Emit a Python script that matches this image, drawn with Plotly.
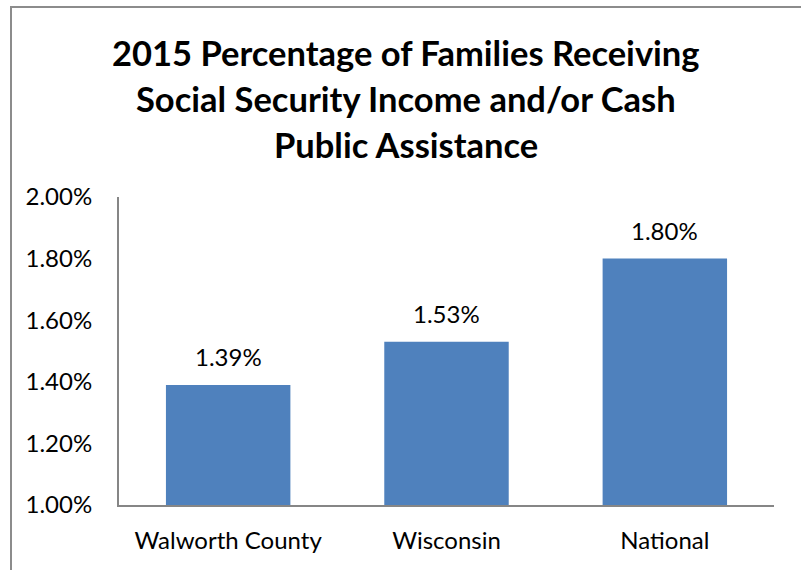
import plotly.graph_objects as go

# Share of families receiving SSI and/or cash public assistance, 2015
categories = ["Walworth County", "Wisconsin", "National"]
values = [1.39, 1.53, 1.80]  # percent
y_tickvals = [1.0, 1.2, 1.4, 1.6, 1.8, 2.0]
y_ticktext = ["1.00%", "1.20%", "1.40%", "1.60%", "1.80%", "2.00%"]
title_lines = [
    "2015 Percentage of Families Receiving",
    "Social Security Income and/or Cash",
    "Public Assistance",
]

W, H = 801, 570
L, R, T, B = 119, 27, 197, 65
pw, ph = W - L - R, H - T - B

font_family = "Lato, 'Open Sans', sans-serif"
AXIS_FLOOR = 1.0

fig = go.Figure(
    go.Bar(
        x=categories,
        y=[v - AXIS_FLOOR for v in values],
        base=AXIS_FLOOR,
        marker=dict(color="#4F81BD", line=dict(width=0)),
        hoverinfo="skip",
    )
)

# value labels above each bar
for c, v in zip(categories, values):
    fig.add_annotation(
        x=c, y=v, xref="x", yref="y",
        text=f"{v:.2f}%", showarrow=False,
        yanchor="bottom", yshift=12,
        font=dict(family=font_family, size=24, color="#000000"),
    )

# chart title, one line per annotation for even spacing
for i, line in enumerate(title_lines):
    ypix = 52 + 46 * i
    fig.add_annotation(
        x=(406 - L) / pw, y=(H - B - ypix) / ph, xref="paper", yref="paper",
        text=f"<b>{line}</b>", showarrow=False,
        xanchor="center", yanchor="middle",
        font=dict(family=font_family, size=34.5, color="#000000"),
    )

# outer chart border
fig.add_shape(
    type="rect", xref="paper", yref="paper",
    x0=(11 - L) / pw, x1=(W + 5 - L) / pw,
    y0=(H - B - (H + 5)) / ph, y1=(H - B - 7) / ph,
    line=dict(color="#8C8C8C", width=2), fillcolor="rgba(0,0,0,0)",
    layer="below",
)

fig.update_layout(
    width=W, height=H,
    margin=dict(l=L, r=R, t=T, b=B),
    paper_bgcolor="white", plot_bgcolor="white",
    showlegend=False,
    bargap=0.43,
    xaxis=dict(
        showgrid=False, showline=True, linecolor="#868686", linewidth=2,
        ticks="", ticklabelstandoff=13,
        tickfont=dict(family=font_family, size=24, color="#000000"),
        fixedrange=True,
    ),
    yaxis=dict(
        range=[1.0, 2.0], showgrid=False, zeroline=False,
        showline=True, linecolor="#868686", linewidth=2,
        tickvals=y_tickvals, ticktext=y_ticktext,
        ticks="", ticklabelstandoff=20,
        tickfont=dict(family=font_family, size=24, color="#000000"),
        fixedrange=True,
    ),
)

fig.write_html("out.html")
